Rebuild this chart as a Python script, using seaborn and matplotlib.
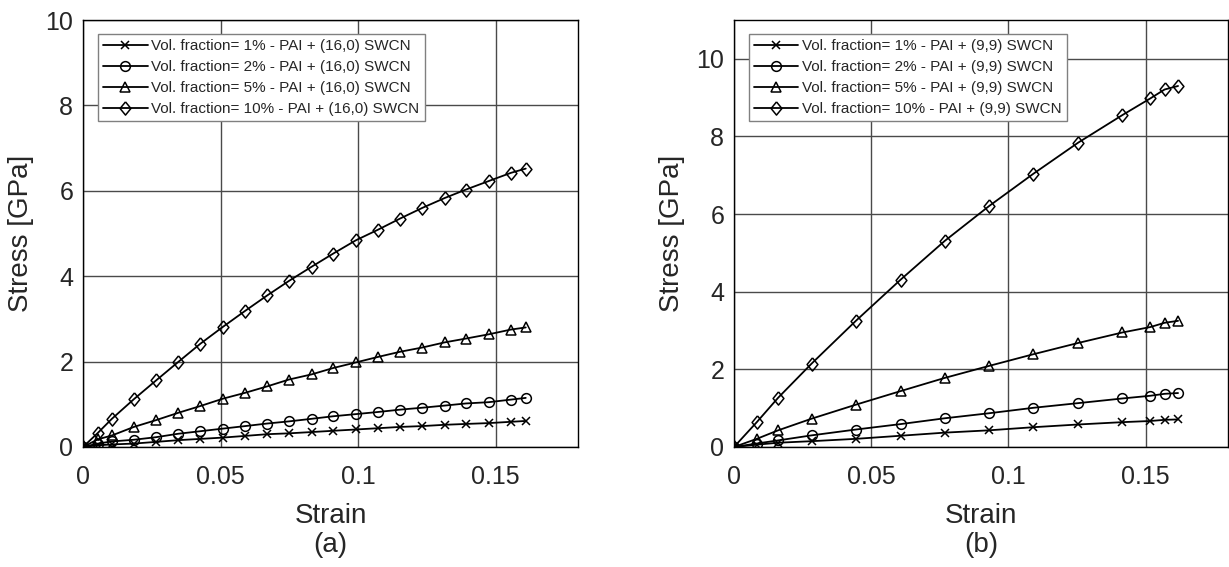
import numpy as np
import pandas as pd
import matplotlib
matplotlib.use("Agg")
import matplotlib.pyplot as plt
import seaborn as sns

# ---- (a) PAI + (16,0) SWCN ----
strain_a = [0.0, 0.0054, 0.0105, 0.0185, 0.0266, 0.0346, 0.0427, 0.0508, 0.0590,
            0.0670, 0.0749, 0.0831, 0.0910, 0.0992, 0.1073, 0.1153, 0.1234, 0.1315,
            0.1393, 0.1476, 0.1556, 0.1610]
stress_a_1 = [0.0, 0.04, 0.06, 0.08, 0.12, 0.16, 0.19, 0.22, 0.26, 0.30, 0.32, 0.35,
              0.38, 0.41, 0.44, 0.47, 0.49, 0.52, 0.54, 0.56, 0.59, 0.61]
stress_a_2 = [0.0, 0.08, 0.13, 0.17, 0.23, 0.31, 0.37, 0.43, 0.49, 0.55, 0.60, 0.66,
              0.72, 0.77, 0.82, 0.875, 0.92, 0.97, 1.02, 1.05, 1.11, 1.15]
stress_a_5 = [0.0, 0.18, 0.27, 0.47, 0.63, 0.80, 0.96, 1.13, 1.27, 1.42, 1.58, 1.70,
              1.85, 1.98, 2.11, 2.23, 2.33, 2.45, 2.54, 2.64, 2.75, 2.80]
stress_a_10 = [0.0, 0.33, 0.66, 1.12, 1.56, 1.99, 2.42, 2.81, 3.19, 3.55, 3.89, 4.22,
               4.53, 4.84, 5.09, 5.35, 5.60, 5.83, 6.03, 6.23, 6.42, 6.52]

# ---- (b) PAI + (9,9) SWCN ----
strain_b = [0.0, 0.0083, 0.0161, 0.0283, 0.0444, 0.0607, 0.0768, 0.0930, 0.1091,
            0.1254, 0.1415, 0.1517, 0.1569, 0.1618]
stress_b_1 = [0.0, 0.06, 0.11, 0.15, 0.21, 0.29, 0.37, 0.43, 0.51, 0.58, 0.64, 0.67, 0.70, 0.71]
stress_b_2 = [0.0, 0.09, 0.17, 0.30, 0.45, 0.59, 0.74, 0.87, 1.01, 1.13, 1.25, 1.32, 1.37, 1.39]
stress_b_5 = [0.0, 0.21, 0.43, 0.73, 1.09, 1.44, 1.78, 2.09, 2.39, 2.68, 2.95, 3.09, 3.20, 3.25]
stress_b_10 = [0.0, 0.64, 1.27, 2.15, 3.25, 4.31, 5.31, 6.21, 7.04, 7.84, 8.55, 8.98, 9.21, 9.30]

fractions = ["1%", "2%", "5%", "10%"]
xticks = [0, 0.05, 0.1, 0.15]
xtick_labels = ["0", "0.05", "0.1", "0.15"]
yticks = [0, 2, 4, 6, 8, 10]

sns.set_theme(style="white")
plt.rcParams["font.family"] = ["Liberation Sans", "DejaVu Sans"]

diamond = [(0, 1), (0.82, 0), (0, -1), (-0.82, 0), (0, 1)]
marker_map = {"1%": "x", "2%": "o", "5%": "^", "10%": diamond}
size_map = {"1%": 5.5, "2%": 7, "5%": 7.8, "10%": 9.5}


def draw_panel(ax, strain, series, tube, ylim, tag):
    for frac, vals in zip(fractions, series):
        df = pd.DataFrame({"strain": strain, "stress": vals})
        sns.lineplot(data=df, x="strain", y="stress", marker=marker_map[frac],
                     markersize=size_map[frac], color="black", sort=False,
                     estimator=None, linewidth=1.3, markerfacecolor="none",
                     markeredgewidth=1.1, markeredgecolor="black", ax=ax)

    ax.set_xlim(0, 0.18)
    ax.set_ylim(*ylim)
    ax.set_xticks(xticks)
    ax.set_xticklabels(xtick_labels)
    ax.set_yticks(yticks)
    ax.grid(True, color="#4a4a4a", linewidth=1.0)
    ax.set_axisbelow(True)
    for sp in ax.spines.values():
        sp.set_visible(True)
        sp.set_color("black")
        sp.set_linewidth(1.0)
    ax.tick_params(axis="both", labelsize=18, colors="#262626",
                   direction="in", length=4)
    ax.tick_params(axis="x", pad=13)
    ax.tick_params(axis="y", pad=7)
    ax.set_xlabel("Strain", fontsize=20, color="#262626", labelpad=10)
    ax.set_ylabel("Stress [GPa]", fontsize=20, color="#262626", labelpad=8)
    ax.text(0.5, -0.2, tag, transform=ax.transAxes, ha="center", va="top",
            fontsize=20, color="#262626")

    labels = [f"Vol. fraction= {f} - PAI + {tube} SWCN" for f in fractions]
    leg = ax.legend(handles=list(ax.lines[:4]), labels=labels, loc="upper left",
                    bbox_to_anchor=(0.03, 0.967), borderaxespad=0, fontsize=11,
                    frameon=True, fancybox=False, framealpha=1, edgecolor="#808080",
                    handlelength=2.9, handletextpad=0.25, labelspacing=0.45,
                    borderpad=0.35)
    leg.get_frame().set_linewidth(1.0)


fig = plt.figure(figsize=(12.29, 5.67), dpi=100)
ax_a = fig.add_axes([83 / 1229, 120 / 567, 495 / 1229, 427 / 567])
ax_b = fig.add_axes([734 / 1229, 120 / 567, 494 / 1229, 427 / 567])

draw_panel(ax_a, strain_a, [stress_a_1, stress_a_2, stress_a_5, stress_a_10],
           "(16,0)", (0, 10), "(a)")
draw_panel(ax_b, strain_b, [stress_b_1, stress_b_2, stress_b_5, stress_b_10],
           "(9,9)", (0, 11), "(b)")

fig.savefig("out.png", dpi=100, facecolor="white")
